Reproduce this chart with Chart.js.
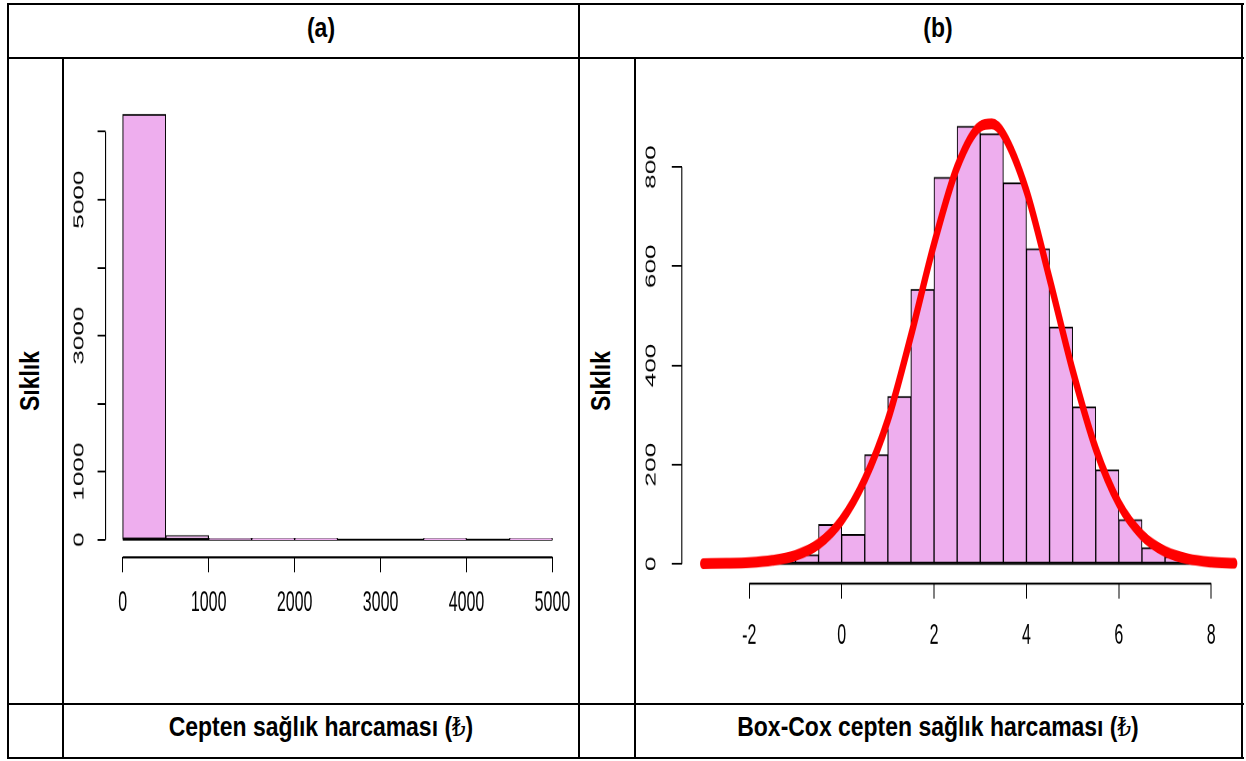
<!DOCTYPE html>
<html>
<head>
<meta charset="utf-8">
<script src="https://cdn.jsdelivr.net/npm/chart.js@4.4.1/dist/chart.umd.min.js"></script>
<style>
  html, body { margin: 0; padding: 0; background: #fff; }
  body { width: 1246px; height: 761px; position: relative; overflow: hidden; font-family: "Liberation Sans", Arial, sans-serif; }
  .ln { position: absolute; background: #000; }
  .txt { position: absolute; font-weight: bold; font-size: 28px; line-height: 1; white-space: nowrap; color: #000;
         transform: translate(-50%, -50%) scaleX(0.82); }
  .vtxt { transform: translate(-50%, -50%) rotate(-90deg) scaleX(0.82); }
  .lira { font-weight: normal; font-family: "DejaVu Serif", serif; font-size: 26px; }
  .cell { position: absolute; overflow: hidden; }
  .stretch { position: absolute; left: 0; transform-origin: 0 0; transform: scaleY(1.8); }
</style>
</head>
<body>

<!-- table grid -->
<div class="ln" style="left:7px;top:3px;width:1237px;height:2px"></div>
<div class="ln" style="left:7px;top:57px;width:1237px;height:2px"></div>
<div class="ln" style="left:7px;top:703px;width:1237px;height:2px"></div>
<div class="ln" style="left:7px;top:757px;width:1237px;height:2px"></div>
<div class="ln" style="left:7px;top:3px;width:2px;height:756px"></div>
<div class="ln" style="left:1241px;top:3px;width:2px;height:756px"></div>
<div class="ln" style="left:578px;top:3px;width:2px;height:756px"></div>
<div class="ln" style="left:62px;top:57px;width:2px;height:702px"></div>
<div class="ln" style="left:634px;top:57px;width:2px;height:702px"></div>

<div class="txt" style="left:321px;top:28px">(a)</div>
<div class="txt" style="left:938px;top:28px">(b)</div>
<div class="txt vtxt" style="left:30px;top:381px">Sıklık</div>
<div class="txt vtxt" style="left:601px;top:381px">Sıklık</div>
<div class="txt" style="left:321px;top:727px">Cepten sağlık harcaması (<span class="lira">₺</span>)</div>
<div class="txt" style="left:938px;top:727px">Box-Cox cepten sağlık harcaması (<span class="lira">₺</span>)</div>

<div class="cell" style="left:64px;top:59px;width:514px;height:644px">
  <div class="stretch" style="top:-32.7px"><canvas id="histA" width="514" height="376"></canvas></div>
</div>
<div class="cell" style="left:636px;top:59px;width:605px;height:644px">
  <div class="stretch" style="top:-64.6px"><canvas id="histB" width="625" height="394"></canvas></div>
</div>

<script>
// (a) raw spending, bins of 500
const costBinStart = [0, 500, 1000, 1500, 2000, 2500, 3000, 3500, 4000, 4500];
const costFreq = [6250, 59, 2, 1, 1, 0, 0, 1, 0, 1];
const costTicksX = [0, 1000, 2000, 3000, 4000, 5000];
const costTicksY = [0, 1000, 2000, 3000, 4000, 5000, 6000];
const costLabelsY = [0, 1000, 3000, 5000];

// (b) Box-Cox transformed, bins of 0.5
const bcBinStart = [-3, -2.5, -2, -1.5, -1, -0.5, 0, 0.5, 1, 1.5, 2, 2.5, 3, 3.5, 4, 4.5, 5, 5.5, 6, 6.5, 7, 7.5, 8];
const bcFreq = [1, 1, 3, 15, 18, 79, 59, 220, 337, 553, 779, 882, 867, 768, 635, 477, 316, 189, 89, 32, 14, 4, 2];
const bcCurveX = [-3, -2.5, -2, -1.5, -1, -0.5, 0, 0.5, 1, 1.5, 2, 2.5, 3, 3.25, 3.5, 4, 4.5, 5, 5.5, 6, 6.5, 7, 7.5, 8, 8.5];
const bcCurveY = [0.5, 1, 2.5, 7, 17, 40, 88, 170, 290, 460, 645, 800, 882, 887, 866, 752, 575, 390, 232, 122, 58, 25, 10, 3.5, 1];
const bcTicksX = [-2, 0, 2, 4, 6, 8];
const bcTicksY = [0, 200, 400, 600, 800];

const S = 1.8; // vertical stretch of the plot images

// R style axes: line only from first to last tick, plus the histogram baseline
const rAxes = {
  id: 'rAxes',
  beforeDatasetsDraw(chart, args, opts) {
    const {ctx, scales: {x, y}} = chart;
    ctx.save();
    ctx.strokeStyle = '#000';
    ctx.lineWidth = 1;
    ctx.beginPath();
    ctx.moveTo(x.getPixelForValue(opts.base[0]), y.getPixelForValue(0));
    ctx.lineTo(x.getPixelForValue(opts.base[1]), y.getPixelForValue(0));
    ctx.stroke();
    ctx.restore();
  },
  afterDraw(chart) {
    const {ctx, chartArea, scales: {x, y}} = chart;
    const xt = x.ticks, yt = y.ticks;
    ctx.save();
    ctx.strokeStyle = '#000';
    ctx.lineWidth = 1.1;
    ctx.beginPath();
    ctx.moveTo(x.getPixelForValue(xt[0].value), chartArea.bottom);
    ctx.lineTo(x.getPixelForValue(xt[xt.length - 1].value), chartArea.bottom);
    ctx.moveTo(chartArea.left, y.getPixelForValue(yt[0].value));
    ctx.lineTo(chartArea.left, y.getPixelForValue(yt[yt.length - 1].value));
    ctx.stroke();
    ctx.restore();
  }
};

function histChart(id, o) {
  const w = o.bins[1] - o.bins[0];
  const datasets = [];
  if (o.curveX) {
    datasets.push({
      type: 'line',
      data: o.curveX.map((x, i) => ({x: x, y: o.curveY[i]})),
      borderColor: '#ff0000',
      borderWidth: 6,
      pointRadius: 0,
      cubicInterpolationMode: 'monotone',
      borderCapStyle: 'round',
      borderJoinStyle: 'round',
      order: 0
    });
  }
  datasets.push({
    type: 'bar',
    data: o.bins.map((b, i) => ({x: b + w / 2, y: o.freq[i]})),
    backgroundColor: '#eeaeee',
    borderColor: '#000',
    borderWidth: 1,
    borderSkipped: false,
    barPercentage: 1,
    categoryPercentage: 1,
    order: 1
  });

  return new Chart(document.getElementById(id), {
    type: 'bar',
    data: {datasets: datasets},
    options: {
      responsive: false,
      animation: false,
      devicePixelRatio: 2,
      events: [],
      layout: {padding: {top: o.padTop, right: o.padRight, left: 0, bottom: 0}},
      plugins: {
        legend: {display: false},
        tooltip: {enabled: false},
        rAxes: {base: [o.bins[0], o.bins[o.bins.length - 1] + w]}
      },
      scales: {
        x: {
          type: 'linear',
          offset: false,
          min: o.xMin,
          max: o.xMax,
          afterBuildTicks: s => { s.ticks = o.ticksX.map(v => ({value: v})); },
          afterFit: s => { s.height = o.xHeight; },
          grid: {offset: false, drawOnChartArea: false, drawTicks: true, tickLength: 15 / S, color: '#000', lineWidth: 1},
          border: {display: false},
          ticks: {
            autoSkip: false, maxRotation: 0, minRotation: 0, padding: o.xPad, color: '#000',
            font: {family: 'Liberation Sans', size: 16},
            callback: v => String(v)
          }
        },
        y: {
          type: 'linear',
          min: o.yMin,
          max: o.yMax,
          afterBuildTicks: s => { s.ticks = o.ticksY.map(v => ({value: v})); },
          afterFit: s => { s.width = o.yWidth; },
          grid: {drawOnChartArea: false, drawTicks: true, tickLength: o.yTick, color: '#000', lineWidth: 1},
          border: {display: false},
          ticks: {
            autoSkip: false, minRotation: 90, maxRotation: 90, crossAlign: 'center', padding: o.yPad, color: '#000',
            font: {family: 'Liberation Sans', size: 14.5},
            callback: v => (o.labelsY.includes(v) ? String(v) : '')
          }
        }
      }
    },
    plugins: [rAxes]
  });
}

histChart('histA', {
  bins: costBinStart, freq: costFreq,
  ticksX: costTicksX, ticksY: costTicksY, labelsY: costLabelsY,
  xMin: -200, xMax: 5200, yMin: -260, yMax: 6760,
  padTop: 30, padRight: 1.56, yWidth: 41.56, xHeight: 80.8,
  yTick: 8, yPad: 2, xPad: 7.7
});

histChart('histB', {
  bins: bcBinStart, freq: bcFreq, curveX: bcCurveX, curveY: bcCurveY,
  ticksX: bcTicksX, ticksY: bcTicksY, labelsY: bcTicksY,
  xMin: -3.46, xMax: 8.96, yMin: -40, yMax: 1040,
  padTop: 30, padRight: 5.4, yWidth: 45.8, xHeight: 66.4,
  yTick: 10, yPad: 8.4, xPad: 11.1
});
</script>
</body>
</html>
